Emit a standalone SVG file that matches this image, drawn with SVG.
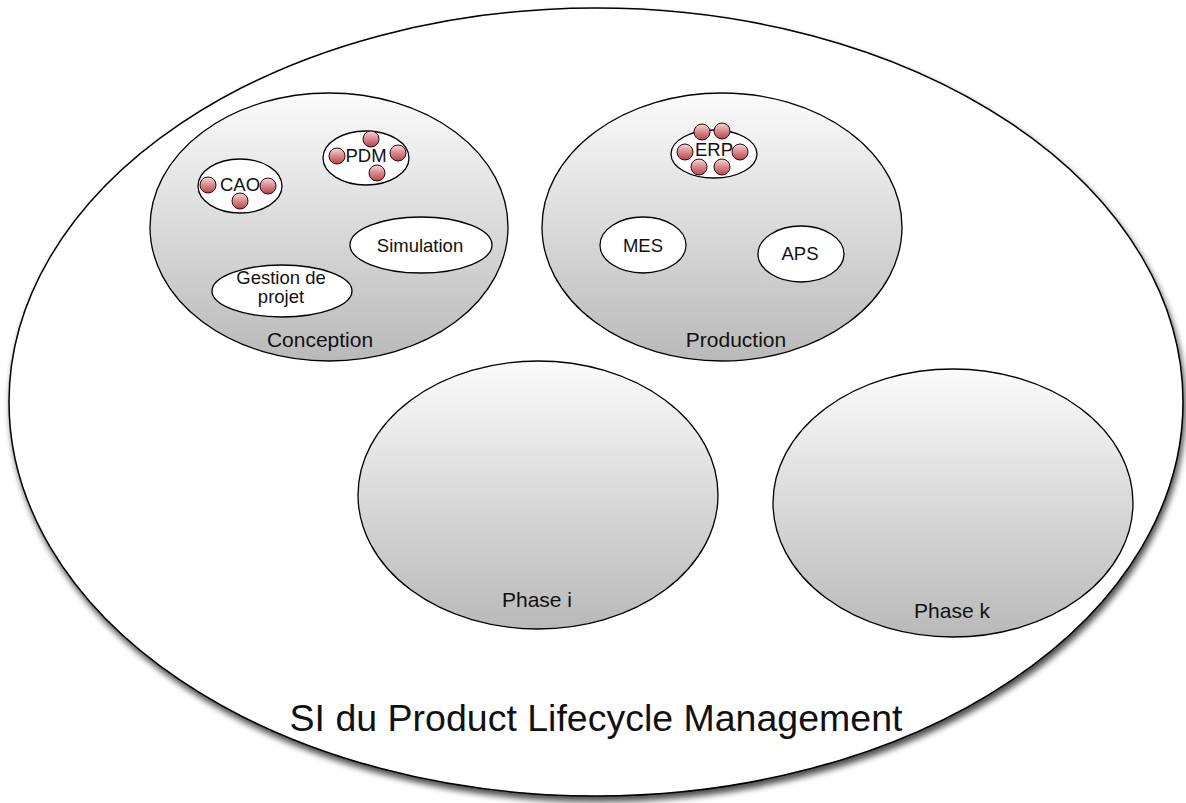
<svg xmlns="http://www.w3.org/2000/svg" width="1186" height="803" viewBox="0 0 1186 803">
<defs>
  <linearGradient id="gray" x1="0" y1="0" x2="0" y2="1">
    <stop offset="0" stop-color="#fbfbfb"/>
    <stop offset="1" stop-color="#b9b9b9"/>
  </linearGradient>
  <linearGradient id="red" x1="0" y1="0" x2="0" y2="1">
    <stop offset="0" stop-color="#f6dada"/>
    <stop offset="0.45" stop-color="#dc9094"/>
    <stop offset="1" stop-color="#b8424e"/>
  </linearGradient>
  <filter id="shadow" x="-5%" y="-5%" width="110%" height="112%">
    <feGaussianBlur in="SourceAlpha" stdDeviation="3"/>
    <feOffset dx="2" dy="5" result="b"/>
    <feComponentTransfer><feFuncA type="linear" slope="0.7"/></feComponentTransfer>
    <feMerge><feMergeNode/><feMergeNode in="SourceGraphic"/></feMerge>
  </filter>
</defs>
<style>
  .phase { fill: url(#gray); stroke: #000; stroke-width: 1.3; }
  .app { fill: #fff; stroke: #000; stroke-width: 1.3; }
  .dot { fill: url(#red); stroke: #2a0808; stroke-width: 1; }
  text { font-family: "Liberation Sans", Arial, sans-serif; fill: #111; text-anchor: middle; }
  .big { font-size: 21px; }
  .small { font-size: 18.5px; }
  .title { font-size: 37.5px; }
</style>
<g id="pml">
  <ellipse cx="596" cy="402" rx="587" ry="394" fill="#fff" stroke="#000" stroke-width="1.5" filter="url(#shadow)"/>
  <text class="title" x="596" y="731">SI du Product Lifecycle Management</text>
</g>
<g id="conception">
  <ellipse class="phase" cx="329" cy="227" rx="179" ry="134"/>
  <text class="big" x="320" y="347">Conception</text>
</g>
<g id="cao">
  <ellipse class="app" cx="240" cy="186" rx="42" ry="27"/>
  <circle class="dot" cx="208" cy="185" r="8"/>
  <circle class="dot" cx="268" cy="186" r="8"/>
  <circle class="dot" cx="240" cy="201" r="8"/>
  <text class="small" x="240" y="191">CAO</text>
</g>
<g id="pdm">
  <ellipse class="app" cx="366" cy="158" rx="43" ry="27"/>
  <circle class="dot" cx="371" cy="139" r="8"/>
  <circle class="dot" cx="337" cy="156" r="8"/>
  <circle class="dot" cx="398" cy="153" r="8"/>
  <circle class="dot" cx="377" cy="173" r="8"/>
  <text class="small" x="366" y="162">PDM</text>
</g>
<g id="simulation">
  <ellipse class="app" cx="421" cy="245" rx="71" ry="28"/>
  <text class="small" x="420" y="252">Simulation</text>
</g>
<g id="gestion">
  <ellipse class="app" cx="282" cy="291" rx="70" ry="26"/>
  <text class="small" x="281" y="284">Gestion de</text>
  <text class="small" x="281" y="303">projet</text>
</g>
<g id="production">
  <ellipse class="phase" cx="722" cy="227" rx="180" ry="134"/>
  <text class="big" x="736" y="347">Production</text>
</g>
<g id="erp">
  <ellipse class="app" cx="714" cy="154" rx="43" ry="24"/>
  <circle class="dot" cx="702" cy="132" r="8"/>
  <circle class="dot" cx="722" cy="131" r="8"/>
  <circle class="dot" cx="685" cy="152" r="8"/>
  <circle class="dot" cx="740" cy="152" r="8"/>
  <circle class="dot" cx="699" cy="167" r="8"/>
  <circle class="dot" cx="722" cy="167" r="8"/>
  <text class="small" x="714" y="156">ERP</text>
</g>
<g id="mes">
  <ellipse class="app" cx="643" cy="245" rx="43" ry="28"/>
  <text class="small" x="643" y="252">MES</text>
</g>
<g id="aps">
  <ellipse class="app" cx="801" cy="254" rx="43" ry="28"/>
  <text class="small" x="800" y="260">APS</text>
</g>
<g id="phase-i">
  <ellipse class="phase" cx="538" cy="495" rx="180" ry="134"/>
  <text class="big" x="537" y="607">Phase i</text>
</g>
<g id="phase-k">
  <ellipse class="phase" cx="953" cy="503" rx="180" ry="134"/>
  <text class="big" x="952" y="618">Phase k</text>
</g>
<g id="connectors"></g>
</svg>
